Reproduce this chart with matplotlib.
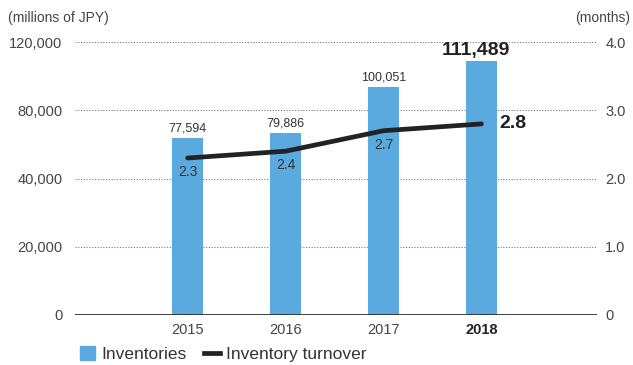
import matplotlib.pyplot as plt
from matplotlib.patches import Patch
from matplotlib.lines import Line2D

# datos
years = ['2015', '2016', '2017', '2018']
inventories = [77594, 79886, 100051, 111489]
turnover = [2.3, 2.4, 2.7, 2.8]
# la escala izquierda es lineal 0-120,000 pero el original rotula las lineas asi
left_ticks = [0, 30000, 60000, 90000, 120000]
left_labels = ['0', '20,000', '40,000', '80,000', '120,000']
right_ticks = [0, 1.0, 2.0, 3.0, 4.0]
right_labels = ['0', '1.0', '2.0', '3.0', '4.0']

BAR = '#5aaadf'
TXT = '#333333'
plt.rcParams['font.family'] = ['Liberation Sans', 'DejaVu Sans']

fig = plt.figure(figsize=(6.33, 3.65), dpi=100)
ax = fig.add_axes([75 / 633, 1 - 315 / 365, 522 / 633, 273 / 365])
x = list(range(len(years)))

ax.bar(x, inventories, width=0.31, color=BAR, zorder=2)
ax.set_xlim(-1.15, 4.18)
ax.set_ylim(0, 120000)
ax.set_yticks(left_ticks)
ax.set_yticklabels(left_labels)
for t in left_ticks[1:]:
    ax.axhline(t, color='#777777', lw=0.8, ls=(0, (1, 1.5)), zorder=1)
ax.axhline(0, color='#333333', lw=1.3, zorder=3)
for s in ax.spines.values():
    s.set_visible(False)
ax.tick_params(axis='y', length=0, pad=9, labelsize=10.5, labelcolor='#444444')
ax.tick_params(axis='x', length=0, pad=6, labelsize=10.5, labelcolor='#444444')
ax.set_xticks(x)
ax.set_xticklabels(years)
ax.get_xticklabels()[-1].set_fontweight('bold')
ax.get_xticklabels()[-1].set_color('#222222')

# etiquetas de inventario
for i, v in enumerate(inventories):
    if i < len(inventories) - 1:
        ax.annotate(f'{v:,}', (i, v), xytext=(0, 3), textcoords='offset points',
                    ha='center', va='bottom', fontsize=9, color=TXT)
    else:
        ax.annotate(f'{v:,}', (i, v), xytext=(-4, 2), textcoords='offset points',
                    ha='center', va='bottom', fontsize=14, fontweight='bold', color='#222222')

ax2 = ax.twinx()
ax2.set_ylim(0, 4.0)
ax2.plot(x, turnover, color='#222222', lw=3.4, solid_capstyle='round', zorder=4)
ax2.set_yticks(right_ticks)
ax2.set_yticklabels(right_labels)
for s in ax2.spines.values():
    s.set_visible(False)
ax2.tick_params(axis='y', length=0, pad=6, labelsize=10.5, labelcolor='#444444')

for i, v in enumerate(turnover):
    if i < len(turnover) - 1:
        ax2.annotate(f'{v}', (i, v), xytext=(0, -5), textcoords='offset points',
                     ha='center', va='top', fontsize=10, color=TXT)
    else:
        ax2.annotate(f'{v}', (i, v), xytext=(13, 0), textcoords='offset points',
                     ha='left', va='center', fontsize=14, fontweight='bold', color='#222222')

fig.text(8 / 633, 1 - 18 / 365, '(millions of JPY)', fontsize=10, color='#444444', va='center')
fig.text(630 / 633, 1 - 18 / 365, '(months)', fontsize=10, color='#444444', va='center', ha='right')

handles = [Patch(color=BAR, label='Inventories'),
           Line2D([], [], color='#222222', lw=3.4, label='Inventory turnover')]
fig.legend(handles=handles, loc='lower left', bbox_to_anchor=(64 / 633, -0.035), ncol=2,
           frameon=False, fontsize=12.5, handlelength=0.9, handleheight=0.9,
           handletextpad=0.35, columnspacing=1.0, labelcolor='#333333')

fig.savefig('out.png', dpi=100)
